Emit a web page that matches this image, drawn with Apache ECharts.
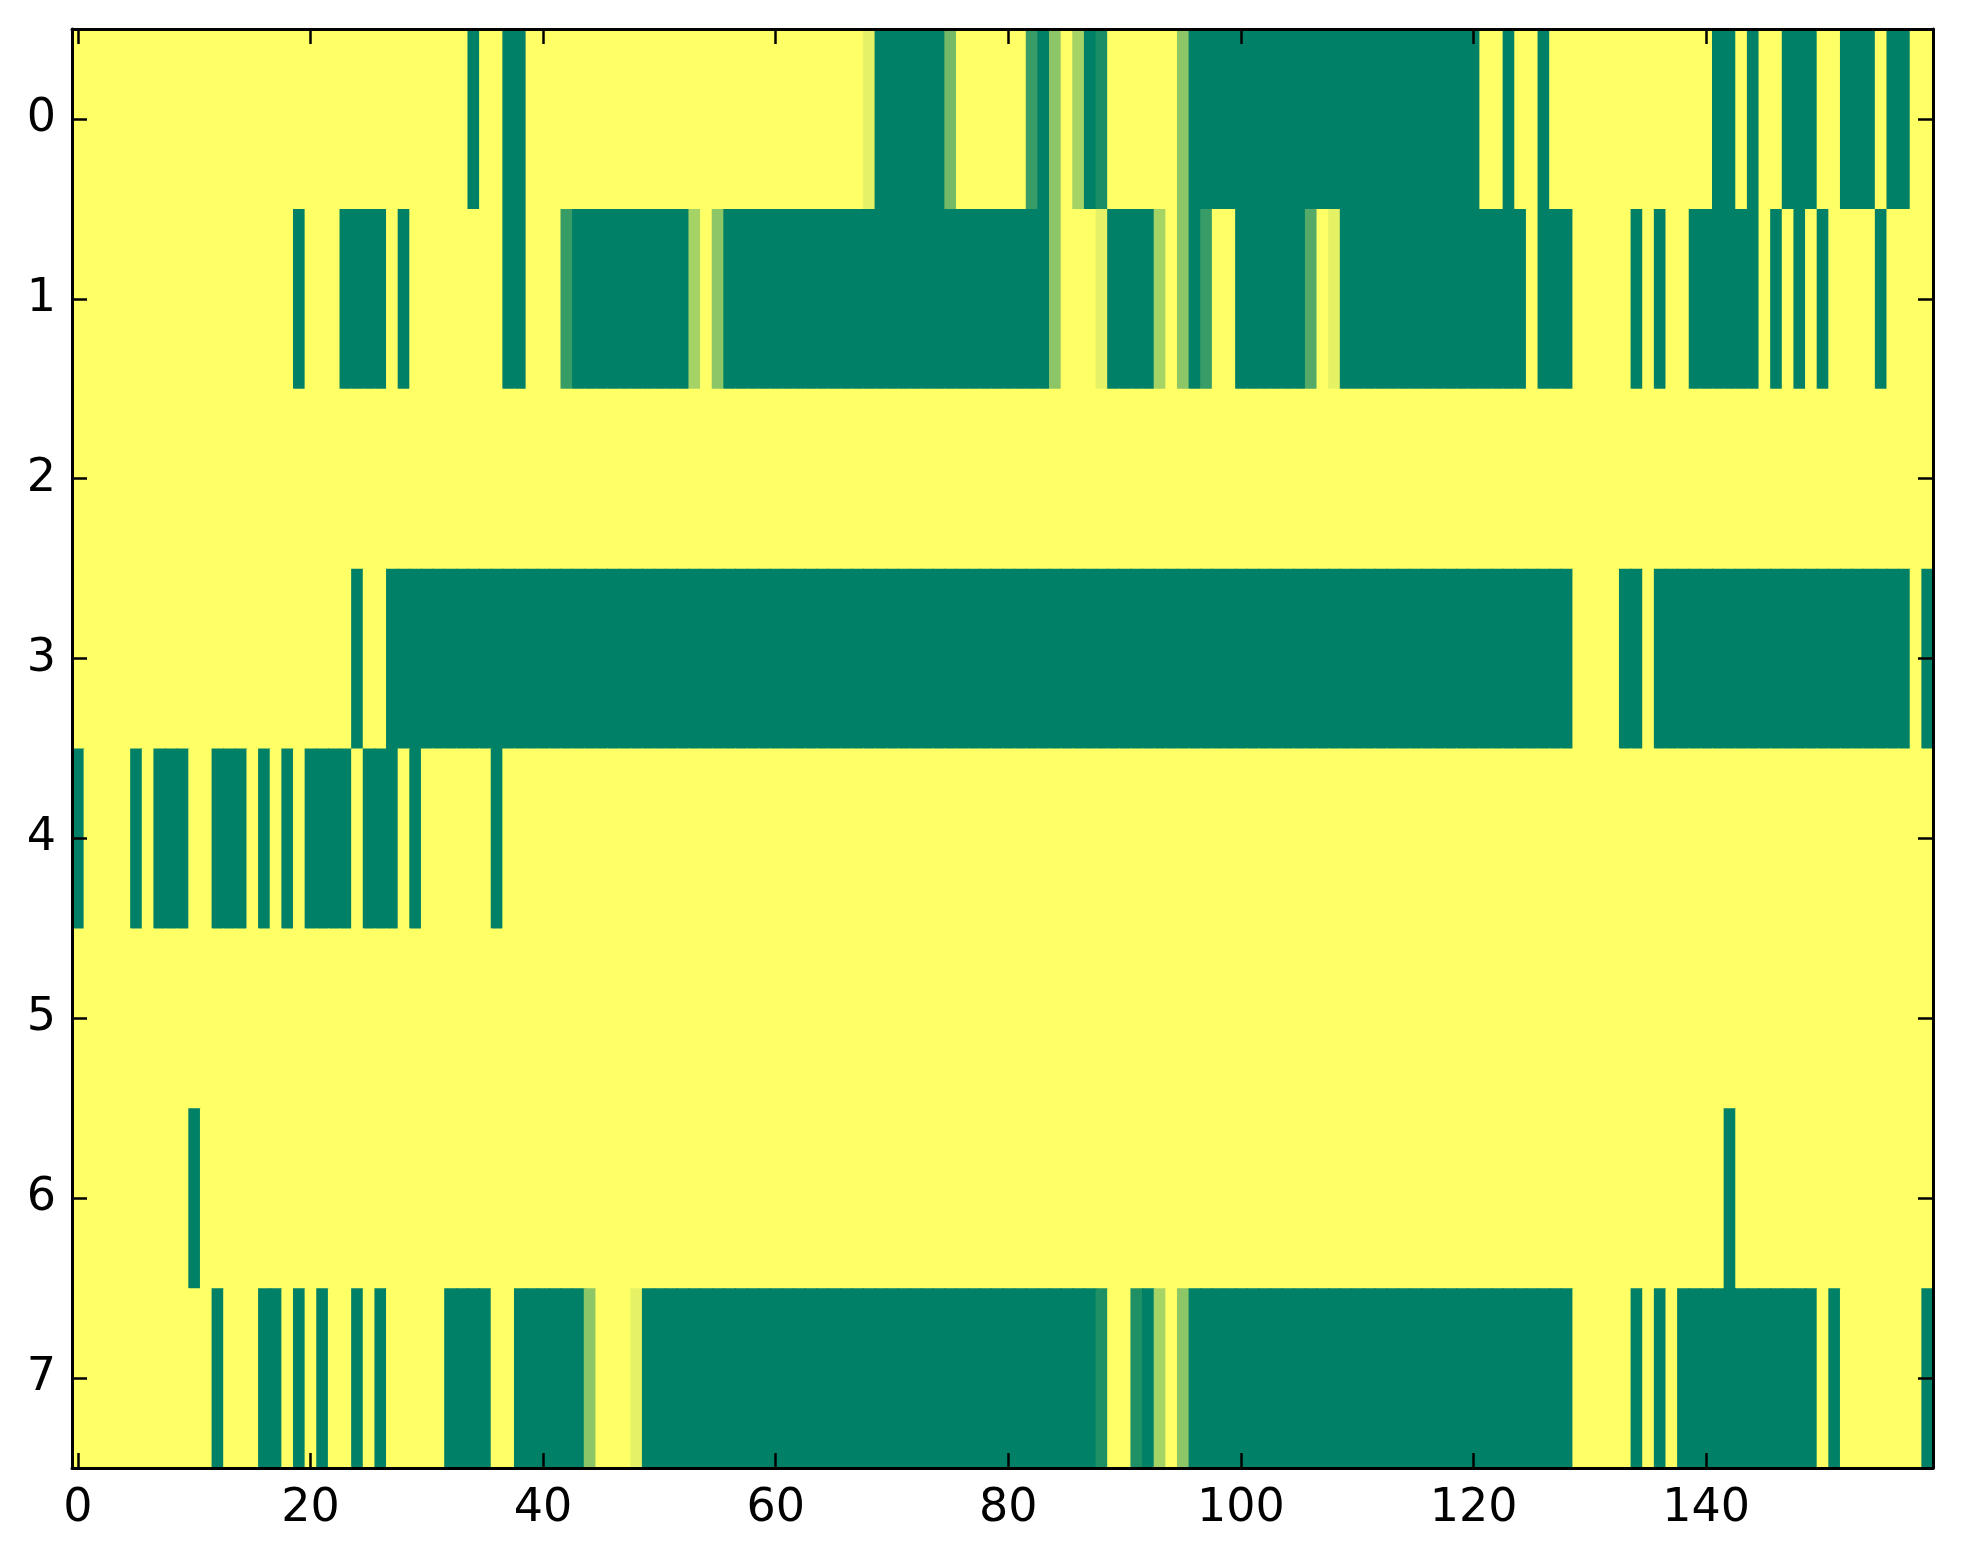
<!DOCTYPE html>
<html>
<head>
<meta charset="utf-8">
<style>
html,body{margin:0;padding:0;background:#fff;}
#chart{width:1963px;height:1564px;}
</style>
<script src="https://cdn.jsdelivr.net/npm/echarts@6/dist/echarts.min.js"></script>
</head>
<body>
<div id="chart"></div>
<script>
// ---- data (1 = yellow, 0 = green) ----
const row0 = [
1,1,1,1,1,1,1,1,1,1,1,1,1,1,1,1,1,1,1,1,
1,1,1,1,1,1,1,1,1,1,1,1,1,1,0,1,1,0,0,1,
1,1,1,1,1,1,1,1,1,1,1,1,1,1,1,1,1,1,1,1,
1,1,1,1,1,1,1,1,0.9,0,0,0,0,0,0,0.45,1,1,1,1,
1,1,0.22,0,0.55,1,0.65,0,0.1,1,1,1,1,1,1,0.55,0,0,0,0,
0,0,0,0,0,0,0,0,0,0,0,0,0,0,0,0,0,0,0,0,
0,1,1,0,1,1,0,1,1,1,1,1,1,1,1,1,1,1,1,1,
1,0,0,1,0,1,1,0,0,0,1,1,0,0,0,1,0,0,1,1];
const row1 = [
1,1,1,1,1,1,1,1,1,1,1,1,1,1,1,1,1,1,1,0,
1,1,1,0,0,0,0,1,0,1,1,1,1,1,1,1,1,0,0,1,
1,1,0.22,0,0,0,0,0,0,0,0,0,0,0.65,1,0.55,0,0,0,0,
0,0,0,0,0,0,0,0,0,0,0,0,0,0,0,0,0,0,0,0,
0,0,0,0,0.55,1,1,1,0.9,0,0,0,0,0.65,1,0.55,0,0.22,1,1,
0,0,0,0,0,0,0.33,1,0.9,0,0,0,0,0,0,0,0,0,0,0,
0,0,0,0,0,1,0,0,0,1,1,1,1,1,0,1,0,1,1,0,
0,0,0,0,0,1,0,1,0,1,0,1,1,1,1,0,1,1,1,1];
const row2 = [
1,1,1,1,1,1,1,1,1,1,1,1,1,1,1,1,1,1,1,1,
1,1,1,1,1,1,1,1,1,1,1,1,1,1,1,1,1,1,1,1,
1,1,1,1,1,1,1,1,1,1,1,1,1,1,1,1,1,1,1,1,
1,1,1,1,1,1,1,1,1,1,1,1,1,1,1,1,1,1,1,1,
1,1,1,1,1,1,1,1,1,1,1,1,1,1,1,1,1,1,1,1,
1,1,1,1,1,1,1,1,1,1,1,1,1,1,1,1,1,1,1,1,
1,1,1,1,1,1,1,1,1,1,1,1,1,1,1,1,1,1,1,1,
1,1,1,1,1,1,1,1,1,1,1,1,1,1,1,1,1,1,1,1];
const row3 = [
1,1,1,1,1,1,1,1,1,1,1,1,1,1,1,1,1,1,1,1,
1,1,1,1,0,1,1,0,0,0,0,0,0,0,0,0,0,0,0,0,
0,0,0,0,0,0,0,0,0,0,0,0,0,0,0,0,0,0,0,0,
0,0,0,0,0,0,0,0,0,0,0,0,0,0,0,0,0,0,0,0,
0,0,0,0,0,0,0,0,0,0,0,0,0,0,0,0,0,0,0,0,
0,0,0,0,0,0,0,0,0,0,0,0,0,0,0,0,0,0,0,0,
0,0,0,0,0,0,0,0,0,1,1,1,1,0,0,1,0,0,0,0,
0,0,0,0,0,0,0,0,0,0,0,0,0,0,0,0,0,0,1,0];
const row4 = [
0,1,1,1,1,0,1,0,0,0,1,1,0,0,0,1,0,1,0,1,
0,0,0,0,1,0,0,0,1,0,1,1,1,1,1,1,0,1,1,1,
1,1,1,1,1,1,1,1,1,1,1,1,1,1,1,1,1,1,1,1,
1,1,1,1,1,1,1,1,1,1,1,1,1,1,1,1,1,1,1,1,
1,1,1,1,1,1,1,1,1,1,1,1,1,1,1,1,1,1,1,1,
1,1,1,1,1,1,1,1,1,1,1,1,1,1,1,1,1,1,1,1,
1,1,1,1,1,1,1,1,1,1,1,1,1,1,1,1,1,1,1,1,
1,1,1,1,1,1,1,1,1,1,1,1,1,1,1,1,1,1,1,1];
const row5 = [
1,1,1,1,1,1,1,1,1,1,1,1,1,1,1,1,1,1,1,1,
1,1,1,1,1,1,1,1,1,1,1,1,1,1,1,1,1,1,1,1,
1,1,1,1,1,1,1,1,1,1,1,1,1,1,1,1,1,1,1,1,
1,1,1,1,1,1,1,1,1,1,1,1,1,1,1,1,1,1,1,1,
1,1,1,1,1,1,1,1,1,1,1,1,1,1,1,1,1,1,1,1,
1,1,1,1,1,1,1,1,1,1,1,1,1,1,1,1,1,1,1,1,
1,1,1,1,1,1,1,1,1,1,1,1,1,1,1,1,1,1,1,1,
1,1,1,1,1,1,1,1,1,1,1,1,1,1,1,1,1,1,1,1];
const row6 = [
1,1,1,1,1,1,1,1,1,1,0,1,1,1,1,1,1,1,1,1,
1,1,1,1,1,1,1,1,1,1,1,1,1,1,1,1,1,1,1,1,
1,1,1,1,1,1,1,1,1,1,1,1,1,1,1,1,1,1,1,1,
1,1,1,1,1,1,1,1,1,1,1,1,1,1,1,1,1,1,1,1,
1,1,1,1,1,1,1,1,1,1,1,1,1,1,1,1,1,1,1,1,
1,1,1,1,1,1,1,1,1,1,1,1,1,1,1,1,1,1,1,1,
1,1,1,1,1,1,1,1,1,1,1,1,1,1,1,1,1,1,1,1,
1,1,0,1,1,1,1,1,1,1,1,1,1,1,1,1,1,1,1,1];
const row7 = [
1,1,1,1,1,1,1,1,1,1,1,1,0,1,1,1,0,0,1,0,
1,0,1,1,0,1,0,1,1,1,1,1,0,0,0,0,1,1,0,0,
0,0,0,0,0.55,1,1,1,0.9,0,0,0,0,0,0,0,0,0,0,0,
0,0,0,0,0,0,0,0,0,0,0,0,0,0,0,0,0,0,0,0,
0,0,0,0,0,0,0,0,0.12,1,1,0.12,0,0.65,1,0.55,0,0,0,0,
0,0,0,0,0,0,0,0,0,0,0,0,0,0,0,0,0,0,0,0,
0,0,0,0,0,0,0,0,0,1,1,1,1,1,0,1,0,1,0,0,
0,0,0,0,0,0,0,0,0,0,1,0,1,1,1,1,1,1,1,0];

const yCategories = ['0','1','2','3','4','5','6','7'];
const xTickLabels = ['0','20','40','60','80','100','120','140'];
const columnCount = row0.length;

// ---- build library structures ----
const rows = [row0,row1,row2,row3,row4,row5,row6,row7];
const xCategories = [];
for (let i = 0; i < columnCount; i++) xCategories.push(String(i));
const data = [];
rows.forEach((r, y) => r.forEach((v, x) => data.push([x, y, v])));
const isMajor = (i, v) => xTickLabels.indexOf(String(v !== undefined ? v : xCategories[i])) >= 0;

const FONT = 'DejaVu Sans';
const axisLine = {show: true, onZero: false, lineStyle: {color: '#000', width: 3}};
const tickStyle = {color: '#000', width: 2.5};

function xAxisDef(pos, showLabel) {
  return {
    type: 'category', data: xCategories, position: pos, boundaryGap: true, z: 10,
    axisLine: axisLine,
    axisTick: {show: true, inside: true, length: 15, alignWithLabel: true,
      interval: (i, v) => isMajor(i, v), lineStyle: tickStyle},
    axisLabel: {show: showLabel, interval: (i, v) => isMajor(i, v), color: '#000',
      fontSize: 46, fontFamily: FONT, margin: 18},
    splitLine: {show: false}
  };
}
function yAxisDef(pos, showLabel) {
  return {
    type: 'category', data: yCategories, position: pos, inverse: true, boundaryGap: true, z: 10,
    axisLine: axisLine,
    axisTick: {show: true, inside: true, length: 15, alignWithLabel: true, interval: 0, lineStyle: tickStyle},
    axisLabel: {show: showLabel, interval: 0, color: '#000', fontSize: 46, fontFamily: FONT, margin: 16},
    splitLine: {show: false}
  };
}

function renderCell(params, api) {
  const c = api.coord([api.value(0), api.value(1)]);
  const s = api.size([1, 1]);
  return {
    type: 'rect',
    shape: {x: c[0] - s[0] / 2, y: c[1] - s[1] / 2, width: s[0] + 1, height: s[1] + 1},
    style: {fill: api.visual('color'), stroke: null}
  };
}

const chart = echarts.init(document.getElementById('chart'), null, {renderer: 'canvas'});
chart.setOption({
  backgroundColor: '#ffffff',
  animation: false,
  grid: {left: 72, right: 30, top: 29, bottom: 96, containLabel: false},
  xAxis: [xAxisDef('bottom', true), xAxisDef('top', false)],
  yAxis: [yAxisDef('left', true), yAxisDef('right', false)],
  visualMap: {
    show: false, type: 'continuous', min: 0, max: 1, dimension: 2, seriesIndex: 0,
    inRange: {color: ['#008066', '#ffff66']}
  },
  series: [{
    type: 'custom', xAxisIndex: 0, yAxisIndex: 0, data: data,
    encode: {x: 0, y: 1}, clip: true, progressive: 0,
    renderItem: renderCell,
    emphasis: {disabled: true}
  }]
});
</script>
</body>
</html>
